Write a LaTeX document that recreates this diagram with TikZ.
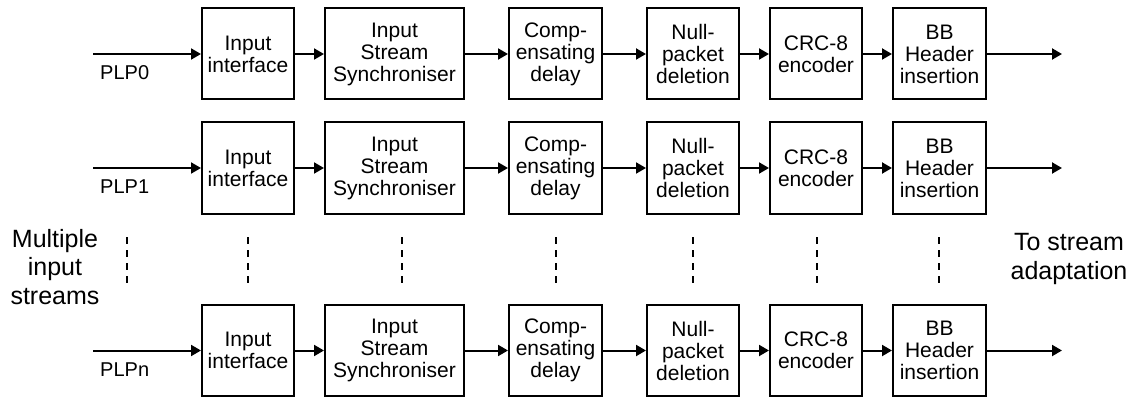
\documentclass[tikz,border=0pt]{standalone}
\usepackage{fontspec}
\setmainfont{Liberation Sans}
\usetikzlibrary{arrows.meta}
\begin{document}
\begin{tikzpicture}[x=1pt,y=-1pt,
 blk/.style={draw,line width=2pt,minimum height=91pt,inner sep=0pt,align=center,font=\fontsize{21}{22}\selectfont},
 flow/.style={line width=2pt,-{Triangle[length=10pt,width=11pt]}},
 guide/.style={line width=1.5pt,dash pattern=on 7pt off 6pt},
 plp/.style={font=\fontsize{20}{24}\selectfont,anchor=west,inner sep=0pt},
 side/.style={font=\fontsize{25}{28.5}\selectfont,align=center,inner sep=0pt}]
\useasboundingbox (0,0) rectangle (1138,401);
\foreach \r/\y/\lab in {0/54/PLP0,1/168/PLP1,n/350.5/PLPn}{
 \node[blk,minimum width=92pt] (a\r) at (248,\y) {Input\\interface};
 \node[blk,minimum width=139pt] (b\r) at (394.5,\y) {Input\\Stream\\Synchroniser};
 \node[blk,minimum width=93pt] (c\r) at (555.5,\y) {Comp-\\ensating\\delay};
 \node[blk,minimum width=92pt] (d\r) at (693,\y) {Null-\\packet\\deletion};
 \node[blk,minimum width=92pt] (e\r) at (816,\y) {CRC-8\\encoder};
 \node[blk,minimum width=93pt] (f\r) at (939.5,\y) {BB\\Header\\insertion};
 \coordinate (in\r) at (93,\y);
 \coordinate (out\r) at (1062,\y);
 \draw[flow] (in\r) -- (a\r);
 \draw[flow] (a\r) -- (b\r);
 \draw[flow] (b\r) -- (c\r);
 \draw[flow] (c\r) -- (d\r);
 \draw[flow] (d\r) -- (e\r);
 \draw[flow] (e\r) -- (f\r);
 \draw[flow] (f\r) -- (out\r);
 \node[plp] (l\r) at (100,\y+19) {\lab};
}
\foreach \x [count=\i] in {127,248,402,556,693,817,939}{
 \coordinate (dt\i) at (\x,237);
 \coordinate (db\i) at (\x,283);
 \draw[guide] (dt\i) -- (db\i);
}
\node[side] (multi) at (55,267) {Multiple\\input\\streams};
\node[side] (tostream) at (1069,259) {To stream\\adaptation};
\end{tikzpicture}
\end{document}
